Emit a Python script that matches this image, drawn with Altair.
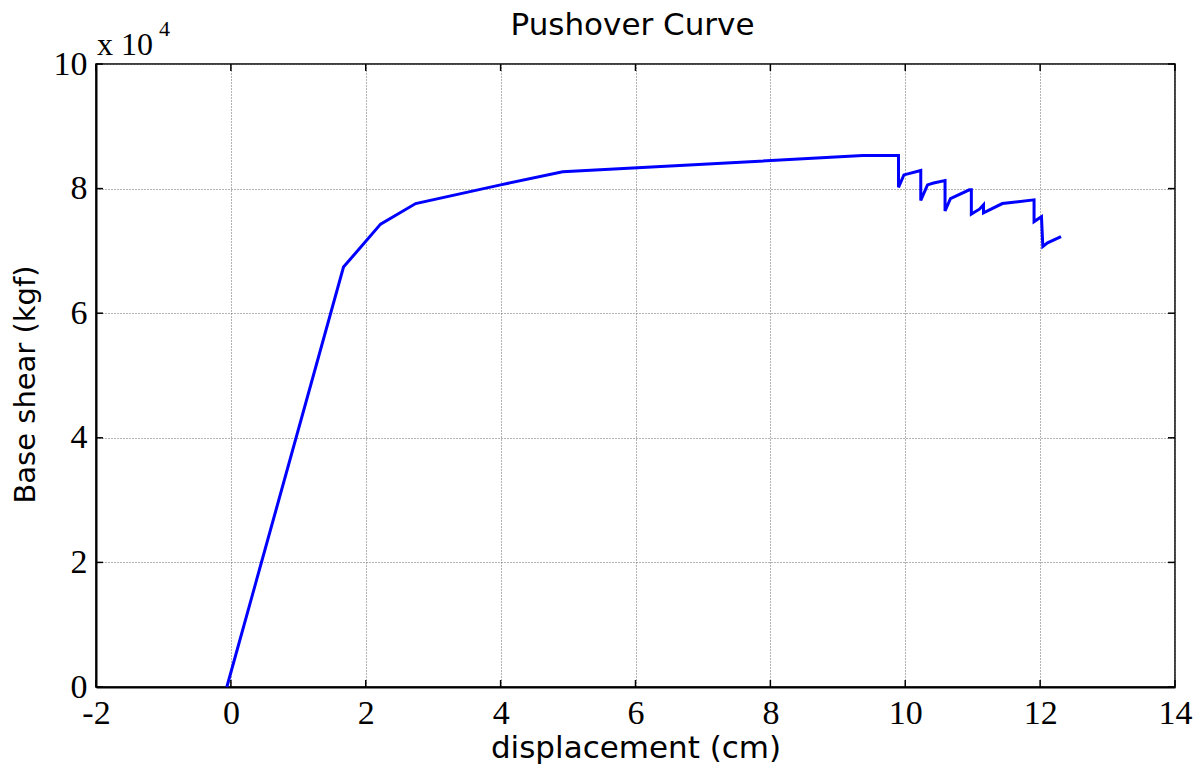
import altair as alt
import pandas as pd

# Pushover curve (displacement in cm, base shear in kgf)
disp = [-0.06, 1.67, 2.22, 2.74, 4.00, 4.92, 9.37, 9.90, 9.90, 9.98, 10.23, 10.23,
        10.33, 10.42, 10.59, 10.59, 10.67, 10.95, 10.98, 10.98, 11.10, 11.16, 11.16,
        11.44, 11.91, 11.91, 12.02, 12.04, 12.11, 12.31]
shear = [0, 67400, 74300, 77600, 80600, 82700, 85300, 85300, 80200, 82200, 82900, 78100,
         80600, 80900, 81300, 76400, 78400, 79800, 79800, 75900, 76700, 77400, 76100,
         77600, 78200, 74700, 75500, 70700, 71300, 72300]

x_ticks = [-2, 0, 2, 4, 6, 8, 10, 12, 14]
y_ticks = [0, 20000, 40000, 60000, 80000, 100000]
multiplier = ["x 10"]
exponent = ["4"]
chart_title = ["Pushover Curve"]

W, H = 1079, 623
df = pd.DataFrame({"disp": disp, "shear": shear, "order": list(range(len(disp)))})
xt = pd.DataFrame({"disp": x_ticks})
yt = pd.DataFrame({"shear": y_ticks})

xscale = alt.Scale(domain=[-2, 14], nice=False, zero=False)
yscale = alt.Scale(domain=[0, 100000], nice=False)

serif = "Liberation Serif"
sans = "DejaVu Sans"

x_axis = alt.Axis(values=x_ticks, ticks=False, labelFont=serif, labelFontSize=34,
                  labelColor="black", labelPadding=9, domainColor="black",
                  domainWidth=2, grid=True, gridColor="#666", gridDash=[1, 2],
                  gridWidth=1, labelExpr="'' + datum.value",
                  title="displacement (cm)", titleFont=sans,
                  titleFontSize=31, titleFontWeight="normal", titleColor="black",
                  titleY=70, titleBaseline="alphabetic", labelFlush=False)
y_axis = alt.Axis(values=y_ticks, ticks=False, labelFont=serif, labelFontSize=34,
                  labelColor="black", labelPadding=9, domainColor="black",
                  domainWidth=2, grid=True, gridColor="#666", gridDash=[1, 2],
                  gridWidth=1, labelExpr="'' + (datum.value / 10000)",
                  title="Base shear (kgf)", titleFont=sans, titleFontSize=29,
                  titleFontWeight="normal", titleColor="black", titleAngle=270,
                  titleX=-62, titleY=320, titleBaseline="alphabetic",
                  titleAlign="center", labelFlush=False)

X = lambda: alt.X("disp:Q", scale=xscale, axis=x_axis)
Y = lambda: alt.Y("shear:Q", scale=yscale, axis=y_axis)

line = alt.Chart(df).mark_line(color="#0000FF", strokeWidth=3).encode(
    x=X(), y=Y(), order="order:Q")

tick_style = dict(color="black", strokeWidth=1.5)
bottom_ticks = alt.Chart(xt).mark_rule(**tick_style).encode(
    x=X(), y=alt.value(H), y2=alt.value(H - 7))
top_ticks = alt.Chart(xt).mark_rule(**tick_style).encode(
    x=X(), y=alt.value(0), y2=alt.value(7))
left_ticks = alt.Chart(yt).mark_rule(**tick_style).encode(
    y=Y(), x=alt.value(0), x2=alt.value(7))
right_ticks = alt.Chart(yt).mark_rule(**tick_style).encode(
    y=Y(), x=alt.value(W), x2=alt.value(W - 7))

mult = alt.Chart(pd.DataFrame({"t": multiplier})).mark_text(
    font=serif, fontSize=32, color="black", align="left", baseline="alphabetic"
).encode(text="t:N", x=alt.value(1), y=alt.value(-9))
expo = alt.Chart(pd.DataFrame({"t": exponent})).mark_text(
    font=serif, fontSize=22, color="black", align="left", baseline="alphabetic"
).encode(text="t:N", x=alt.value(63), y=alt.value(-28))
ttl = alt.Chart(pd.DataFrame({"t": chart_title})).mark_text(
    font=sans, fontSize=31, color="black", align="center", baseline="alphabetic"
).encode(text="t:N", x=alt.value(W / 2 - 3), y=alt.value(-29))

chart = alt.layer(line, bottom_ticks, top_ticks, left_ticks, right_ticks,
                  mult, expo, ttl).properties(
    width=W, height=H,
    background="white",
    autosize=alt.AutoSizeParams(type="none"),
    padding={"left": 96, "top": 64, "right": 21, "bottom": 79},
).configure_view(stroke="black", strokeWidth=1.5)

chart.save("out.html", embed_options={"renderer": "svg", "actions": False})
